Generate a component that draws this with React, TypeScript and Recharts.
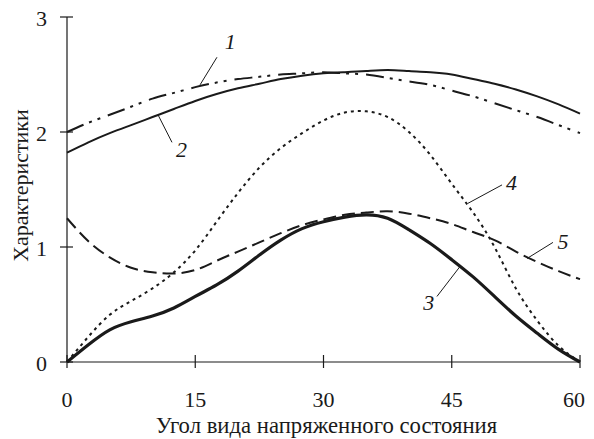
import React from 'react';
import { LineChart, Line, XAxis, YAxis, ReferenceLine, ReferenceDot } from 'recharts';

// angle of stress state, degrees
const angles = [0, 2.5, 5, 7.5, 10, 12.5, 15, 17.5, 20, 22.5, 25, 27.5, 30, 32.5, 35, 37.5, 40, 42.5, 45, 47.5, 50, 52.5, 55, 57.5, 60];

const curve1 = [2.0, 2.08, 2.15, 2.22, 2.29, 2.34, 2.39, 2.43, 2.46, 2.48, 2.5, 2.51, 2.52, 2.51, 2.5, 2.47, 2.44, 2.41, 2.36, 2.31, 2.25, 2.19, 2.13, 2.06, 1.99];
const curve2 = [1.82, 1.91, 1.99, 2.06, 2.13, 2.2, 2.27, 2.33, 2.38, 2.42, 2.46, 2.49, 2.51, 2.52, 2.53, 2.54, 2.53, 2.52, 2.5, 2.46, 2.42, 2.37, 2.31, 2.24, 2.16];
const curve3 = [0, 0.15, 0.28, 0.35, 0.4, 0.47, 0.57, 0.67, 0.79, 0.93, 1.06, 1.16, 1.22, 1.26, 1.28, 1.25, 1.15, 1.03, 0.89, 0.74, 0.57, 0.4, 0.25, 0.11, 0];
const curve4 = [0, 0.22, 0.41, 0.53, 0.64, 0.78, 0.97, 1.22, 1.47, 1.69, 1.86, 1.99, 2.1, 2.17, 2.18, 2.13, 2.0, 1.8, 1.55, 1.3, 1.0, 0.64, 0.36, 0.14, 0];
const curve5 = [1.25, 1.05, 0.91, 0.82, 0.78, 0.77, 0.8, 0.88, 0.96, 1.04, 1.12, 1.19, 1.24, 1.28, 1.3, 1.31, 1.29, 1.25, 1.2, 1.13, 1.06, 0.96, 0.87, 0.79, 0.72];

const xTicks = [0, 15, 30, 45, 60];
const yTicks = [0, 1, 2, 3];

// curve number labels with leader lines: [from x, from y, to x, to y, text x, text y]
const labelNames = ['1', '2', '3', '4', '5'];
const leaders = [
  [15.56, 2.41, 17.54, 2.65, 19.1, 2.72],
  [10.64, 2.15, 12.28, 1.91, 13.4, 1.78],
  [45.96, 0.83, 43.27, 0.57, 42.3, 0.45],
  [46.9, 1.38, 50.88, 1.54, 52.0, 1.5],
  [53.8, 0.9, 56.84, 1.04, 58.0, 0.98],
];

const rows = angles.map((a, i) => ({
  a,
  c1: curve1[i],
  c2: curve2[i],
  c3: curve3[i],
  c4: curve4[i],
  c5: curve5[i],
}));

const FONT = 'Liberation Serif, Times New Roman, serif';
const INK = '#1a1a1a';

const XTick = (props: any) => {
  const { x, y, payload } = props;
  // last label is pulled in a little so it stays inside the page
  const shift = payload.value === 60 ? -6 : 0;
  return (
    <g>
      <line x1={x} y1={y - 7} x2={x} y2={y + 6} stroke={INK} strokeWidth={1.2} />
      <text x={x + shift} y={y + 45} textAnchor="middle" fontFamily={FONT} fontSize={22} fill={INK}>
        {payload.value}
      </text>
    </g>
  );
};

const YTick = (props: any) => {
  const { x, y, payload } = props;
  return (
    <g>
      <line x1={x - 7} y1={y} x2={x + 6} y2={y} stroke={INK} strokeWidth={1.2} />
      <text x={x - 20} y={y + 9} textAnchor="end" fontFamily={FONT} fontSize={22} fill={INK}>
        {payload.value}
      </text>
    </g>
  );
};

const NumberText = (name: string) => (props: any) => (
  <text x={props.cx} y={props.cy} textAnchor="middle" fontFamily={FONT} fontStyle="italic" fontSize={22} fill={INK}>
    {name}
  </text>
);

export default function App() {
  return (
    <div style={{ margin: '-8px 0 0 -8px', width: 594, height: 439 }}>
      <LineChart width={594} height={439} data={rows} margin={{ top: 17, right: 14, left: 0, bottom: 0 }}>
        <XAxis
          dataKey="a"
          type="number"
          domain={[0, 60]}
          ticks={xTicks}
          height={77}
          tickSize={0}
          tickMargin={0}
          tickLine={false}
          tick={<XTick />}
          axisLine={{ stroke: INK, strokeWidth: 1.2 }}
          label={{
            value: 'Угол вида напряженного состояния',
            position: 'insideBottom',
            offset: 6,
            dx: 3,
            fontFamily: FONT,
            fontSize: 22.7,
            fill: INK,
          }}
        />
        <YAxis
          type="number"
          domain={[0, 3]}
          ticks={yTicks}
          width={67}
          tickSize={0}
          tickMargin={0}
          tickLine={false}
          tick={<YTick />}
          axisLine={{ stroke: INK, strokeWidth: 1.2 }}
          label={{
            content: (p: any) => {
              const vb = p.viewBox;
              const cy = vb.y + vb.height / 2 - 4;
              return (
                <text x={28} y={cy} transform={`rotate(-90, 28, ${cy})`} textAnchor="middle" fontFamily={FONT} fontSize={22} fill={INK}>
                  Характеристики
                </text>
              );
            },
          }}
        />
        <Line dataKey="c1" type="natural" stroke={INK} strokeWidth={2} strokeDasharray="18 6 3 6 3 8" dot={false} isAnimationActive={false} />
        <Line dataKey="c2" type="natural" stroke={INK} strokeWidth={2} dot={false} isAnimationActive={false} />
        <Line dataKey="c3" type="natural" stroke={INK} strokeWidth={3.2} dot={false} isAnimationActive={false} />
        <Line dataKey="c4" type="natural" stroke={INK} strokeWidth={2} strokeDasharray="3 4" dot={false} isAnimationActive={false} />
        <Line dataKey="c5" type="natural" stroke={INK} strokeWidth={2} strokeDasharray="13 6" dot={false} isAnimationActive={false} />
        {leaders.map((l, i) => (
          <ReferenceLine
            key={'l' + i}
            segment={[{ x: l[0], y: l[1] }, { x: l[2], y: l[3] }]}
            stroke={INK}
            strokeWidth={1}
          />
        ))}
        {leaders.map((l, i) => (
          <ReferenceDot key={'t' + i} x={l[4]} y={l[5]} r={0} shape={NumberText(labelNames[i])} />
        ))}
      </LineChart>
    </div>
  );
}
